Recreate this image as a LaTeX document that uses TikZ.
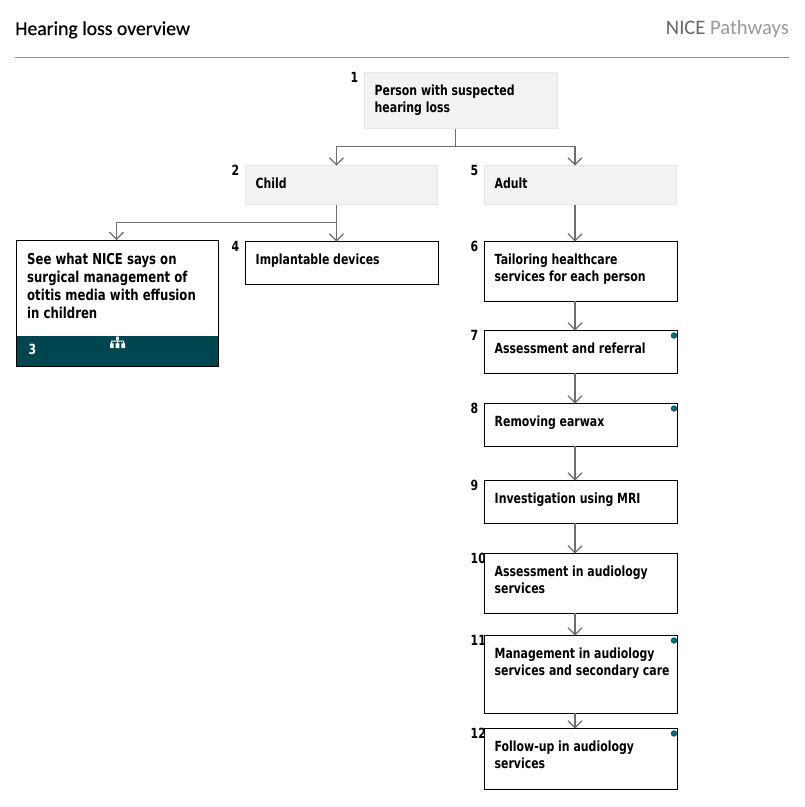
\documentclass[tikz,border=0pt]{standalone}
\usepackage{fontspec}
\setmainfont{DejaVu Sans}[BoldFont={DejaVu Sans Bold},BoldFeatures={FakeStretch=0.78}]
\newfontfamily\latofont{Carlito}
\newfontfamily\latoheavy{Carlito}[FakeBold=0.5]
\usetikzlibrary{arrows.meta}
\definecolor{niceteal}{HTML}{004650}
\definecolor{softfill}{HTML}{F3F3F3}
\definecolor{softedge}{HTML}{E6E6E6}
\definecolor{linkgrey}{HTML}{6E6E6E}
\tikzset{
  softbox/.style={draw=softedge,fill=softfill,line width=.8pt,outer sep=0pt},
  hardbox/.style={draw=black,fill=white,line width=1pt,outer sep=0pt},
  boxtext/.style={anchor=north west,inner sep=0pt,align=left,font=\bfseries\fontsize{14}{17}\selectfont,text=black},
  numtext/.style={anchor=west,inner sep=0pt,font=\bfseries\fontsize{14}{17}\selectfont,text=black},
  link/.style={draw=linkgrey,line width=1.1pt},
  arrowlink/.style={link,-{Straight Barb[length=7pt,width=14pt,line width=1.1pt]}},
  cornerdot/.style={circle,fill=niceteal!75!cyan,draw=niceteal,line width=.7pt,minimum size=5.5pt,inner sep=0pt},
}
% name, style, left, top, right, bottom, number, text
\newcommand{\flowbox}[8]{%
  \node[numtext] (#1num) at (#3-13.5,#4+5) {#7};
  \node[#2,anchor=north west,inner sep=0pt,minimum width=#5pt-#3pt,minimum height=#6pt-#4pt] (#1) at (#3+.5,#4+.5) {};
  \node[boxtext] (#1text) at (#3+10.5,#4+13) {#8};
}
\begin{document}
\begin{tikzpicture}[x=1pt,y=-1pt]
\useasboundingbox (0,0) rectangle (805,807);
\fill[white] (0,0) rectangle (805,807);
\node[anchor=base west,inner sep=0pt,font=\latoheavy\fontsize{19.7}{24}\selectfont] (title) at (15,35) {Hearing loss overview};
\node[anchor=base east,inner sep=0pt,font=\latofont\fontsize{20.6}{24}\selectfont,text=black!60] (brand) at (789,34) {NICE \textcolor{black!40}{Pathways}};
\coordinate (ruleL) at (15,57.5);
\coordinate (ruleR) at (789,57.5);
\draw[draw=black!45,line width=1pt] (ruleL) -- (ruleR);

\flowbox{n1}{softbox}{364}{72}{557}{128}{1}{Person with suspected\\hearing loss}
\flowbox{n2}{softbox}{245}{165}{437}{204}{2}{Child}
\flowbox{n5}{softbox}{484}{165}{676}{204}{5}{Adult}
\flowbox{n4}{hardbox}{245}{241}{438}{283.5}{4}{Implantable devices}
\flowbox{n6}{hardbox}{484}{241}{677}{300.5}{6}{Tailoring healthcare\\services for each person}
\flowbox{n7}{hardbox}{484}{330}{677}{372.5}{7}{Assessment and referral}
\flowbox{n8}{hardbox}{484}{403}{677}{445.5}{8}{Removing earwax}
\flowbox{n9}{hardbox}{484}{480}{677}{522.5}{9}{Investigation using MRI}
\flowbox{n10}{hardbox}{484}{553}{677}{612.5}{10}{Assessment in audiology\\services}
\flowbox{n11}{hardbox}{484}{635}{677}{712.5}{11}{Management in audiology\\services and secondary care}
\flowbox{n12}{hardbox}{484}{728}{677}{788.5}{12}{Follow-up in audiology\\services}

% box 3 with teal footer
\node[hardbox,anchor=north west,inner sep=0pt,minimum width=201.5pt,minimum height=126pt] (n3) at (16.7,240) {};
\fill[niceteal] (16.7,336) rectangle (218.2,366);
\draw[black,line width=1pt] (n3.north west) rectangle (n3.south east);
\node[boxtext,font=\bfseries\fontsize{15}{18}\selectfont] (n3text) at (27,253) {See what NICE says on\\surgical management of\\otitis media with effusion\\in children};
\node[numtext,text=white] (n3num) at (28.5,349) {3};
% org-chart icon
\fill[white] (116.2,336.5) rectangle (118.8,340)
  (111,340.5) rectangle (124,341.5)
  (111,341) rectangle (112,343) (117,341) rectangle (118,343) (123,341) rectangle (124,343)
  (110,343.3) rectangle (113.6,348) (115.7,343.3) rectangle (119.3,348) (121.4,343.3) rectangle (125,348);

\node[cornerdot] (d7) at (674,335.5) {};
\node[cornerdot] (d8) at (674,408.5) {};
\node[cornerdot] (d11) at (674,640.5) {};
\node[cornerdot] (d12) at (674,733.5) {};

% connectors
\coordinate (xa) at (455.5,0);
\coordinate (xc) at (336.5,0);
\coordinate (xd) at (575,0);
\coordinate (xs) at (116.5,0);
\coordinate (busTop) at (0,146.5);
\coordinate (busChild) at (0,222.5);
\draw[link] (n1.south -| xa) -- (busTop -| xa);
\draw[arrowlink] (busTop -| xa) -- (busTop -| xc) -- (n2.north -| xc);
\draw[arrowlink] (busTop -| xa) -- (busTop -| xd) -- (n5.north -| xd);
\draw[arrowlink] (n2.south -| xc) -- (n4.north -| xc);
\draw[arrowlink] (busChild -| xc) -- (busChild -| xs) -- (n3.north -| xs);
\draw[arrowlink] (n5.south -| xd) -- (n6.north -| xd);
\draw[arrowlink] (n6.south -| xd) -- (n7.north -| xd);
\draw[arrowlink] (n7.south -| xd) -- (n8.north -| xd);
\draw[arrowlink] (n8.south -| xd) -- (n9.north -| xd);
\draw[arrowlink] (n9.south -| xd) -- (n10.north -| xd);
\draw[arrowlink] (n10.south -| xd) -- (n11.north -| xd);
\draw[arrowlink] (n11.south -| xd) -- (n12.north -| xd);
\end{tikzpicture}
\end{document}
